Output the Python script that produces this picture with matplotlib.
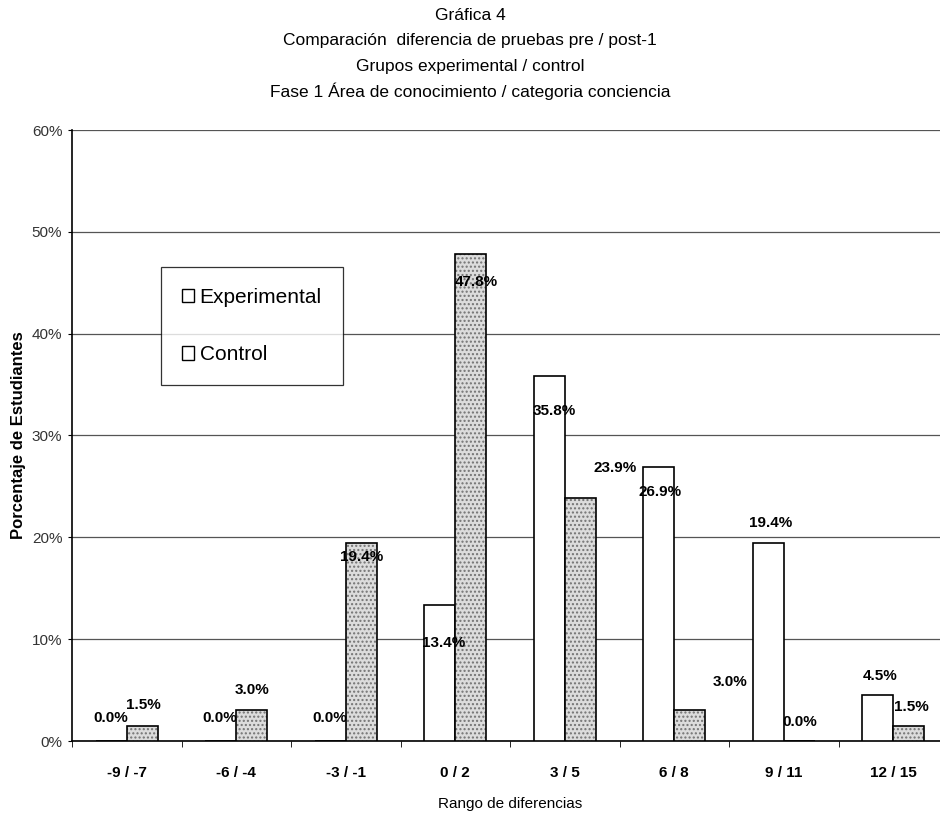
import numpy as np
import matplotlib.pyplot as plt

plt.rcParams['font.family'] = ['Liberation Sans Narrow', 'Liberation Sans', 'DejaVu Sans']

rangos = ['-9 / -7', '-6 / -4', '-3 / -1', '0 / 2', '3 / 5', '6 / 8', '9 / 11', '12 / 15']
experimental = [0.0, 0.0, 0.0, 13.4, 35.8, 26.9, 19.4, 4.5]
control = [1.5, 3.0, 19.4, 47.8, 23.9, 3.0, 0.0, 1.5]

# label offsets in pixels from the top centre of each bar
off_exp = [(0, 23), (-1, 23), (0, 23), (4, -38), (5, -35), (1, -25), (2, 20), (2, 19)]
off_ctl = [(1, 21), (0, 20), (0, -14), (5, -28), (35, 30), (40, 28), (0, 19), (3, 19)]

fig = plt.figure(figsize=(9.4, 8.13), dpi=100)
ax = fig.add_axes([72 / 940, 1 - 741 / 813, (948 - 72) / 940, (741 - 130) / 813])

x = np.arange(len(rangos))
w = 0.285
b1 = ax.bar(x - w / 2, experimental, w, color='white', edgecolor='black', linewidth=1.2,
            label='Experimental', zorder=3)
b2 = ax.bar(x + w / 2, control, w, color='#dcdcdc', edgecolor='black', linewidth=1.2,
            hatch='....', label='Control', zorder=3)
for p in b2:
    p._hatch_color = (0.45, 0.45, 0.45, 1.0)

for xi, v, (dx, dy) in zip(x - w / 2, experimental, off_exp):
    ax.annotate(f'{v:.1f}%', xy=(xi, v), xytext=(dx, dy), textcoords='offset pixels',
                ha='center', va='center', fontsize=11, fontweight='bold', zorder=5)
for xi, v, (dx, dy) in zip(x + w / 2, control, off_ctl):
    ax.annotate(f'{v:.1f}%', xy=(xi, v), xytext=(dx, dy), textcoords='offset pixels',
                ha='center', va='center', fontsize=11, fontweight='bold', zorder=5)

ax.set_xlim(-0.5, len(rangos) - 0.5)
ax.set_ylim(0, 60)
ax.set_yticks(range(0, 61, 10))
ax.set_yticklabels([f'{t}%' for t in range(0, 61, 10)], fontsize=11, color='#333333')
ax.yaxis.grid(True, color='#555555', linewidth=0.9, zorder=0)
ax.set_xticks(x)
ax.set_xticklabels(rangos, fontsize=11, fontweight='bold')
ax.set_xticks(np.arange(-0.5, len(rangos)), minor=True)
ax.tick_params(axis='x', which='major', length=0, pad=18)
ax.tick_params(axis='x', which='minor', length=4, direction='out')
ax.tick_params(axis='y', length=3, direction='out', pad=4)

for s in ['top', 'right']:
    ax.spines[s].set_visible(False)
ax.spines['left'].set_linewidth(1.2)
ax.spines['bottom'].set_linewidth(1.2)

ax.set_ylabel('Porcentaje de Estudiantes', fontsize=12, fontweight='bold',
              family=['Liberation Sans', 'DejaVu Sans'], labelpad=4)
ax.set_xlabel('Rango de diferencias', fontsize=11, labelpad=12)

titulo = ['Gráfica 4',
          'Comparación  diferencia de pruebas pre / post-1',
          'Grupos experimental / control',
          'Fase 1 Área de conocimiento / categoria conciencia']
for i, t in enumerate(titulo):
    fig.text(0.5, 1 - (16 + 25 * i) / 813, t, ha='center', va='center', fontsize=12.5)

leg = ax.legend(loc='upper left', bbox_to_anchor=((161 - 72) / 876, 1 - (267 - 130) / 611),
                fontsize=15, frameon=True, fancybox=False, edgecolor='black',
                handlelength=0.6, handleheight=0.6, handletextpad=0.25,
                labelspacing=1.85, borderpad=1.0, borderaxespad=0)
leg.get_frame().set_linewidth(0.9)
for h in leg.legend_handles:
    h.set_facecolor('white')
    h.set_hatch(None)
    h.set_linewidth(1.0)

fig.savefig('out.png', dpi=100)
